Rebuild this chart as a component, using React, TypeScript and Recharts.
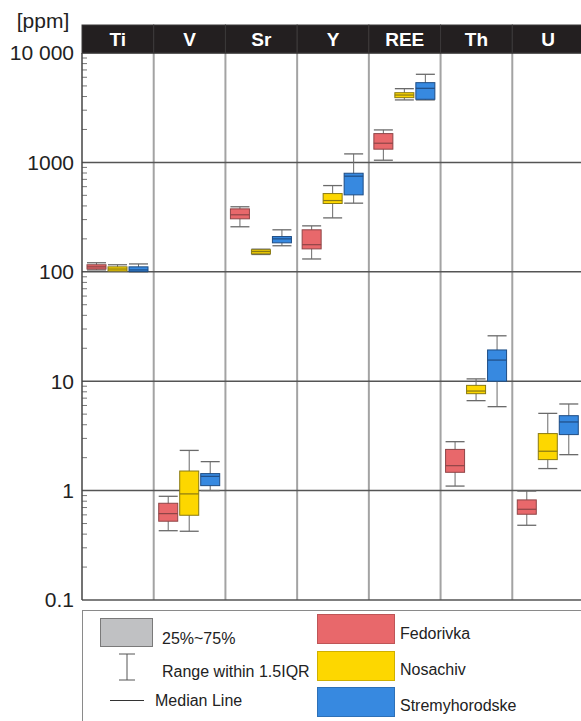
import { ComposedChart, Bar, XAxis, YAxis, CartesianGrid, Legend, Label, ReferenceLine } from 'recharts';

const FONT = '"Liberation Sans", Arial, Helvetica, sans-serif';

const CATEGORIES = ['Ti', 'V', 'Sr', 'Y', 'REE', 'Th', 'U'];

// per element: [whisker low, Q1, median, Q3, whisker high], ppm
const FEDORIVKA = [
  [104, 106, 111, 116, 121],
  [0.43, 0.525, 0.616, 0.766, 0.887],
  [258, 305, 332, 376, 393],
  [131, 162, 177, 242, 263],
  [1047, 1321, 1497, 1833, 1981],
  [1.1, 1.47, 1.69, 2.38, 2.8],
  [0.482, 0.608, 0.675, 0.822, 0.99],
];
const NOSACHIV = [
  [101, 101.6, 106, 111, 116],
  [0.425, 0.595, 0.933, 1.51, 2.33],
  [144, 146, 153, 159, 161],
  [311, 421, 448, 519, 614],
  [3725, 3907, 4128, 4337, 4720],
  [6.64, 7.69, 8.13, 9.16, 10.5],
  [1.59, 1.92, 2.29, 3.32, 5.08],
];
const STREMYHORODSKE = [
  [100, 100.5, 104, 111, 118],
  [1.0, 1.11, 1.35, 1.43, 1.84],
  [173, 184, 200, 210, 242],
  [424, 505, 748, 796, 1196],
  [3725, 3776, 4756, 5357, 6388],
  [5.85, 10.0, 15.6, 19.3, 26.0],
  [2.13, 3.25, 4.24, 4.84, 6.19],
];

const Y_TICKS = [0.1, 1, 10, 100, 1000, 10000];
const DECADES = [0.1, 1, 10, 100, 1000];
const MINOR_STEPS = [2, 3, 4, 5, 6, 7, 8, 9];
const MINOR_TICKS = DECADES.flatMap(d => MINOR_STEPS.map(m => +(d * m).toPrecision(3)));

const SERIES = [
  { key: 'fed', name: 'Fedorivka', fill: '#e8686b', edge: '#8e4547', stats: FEDORIVKA },
  { key: 'nos', name: 'Nosachiv', fill: '#fdd700', edge: '#8a7a12', stats: NOSACHIV },
  { key: 'str', name: 'Stremyhorodske', fill: '#3789e0', edge: '#1f4d84', stats: STREMYHORODSKE },
];

const data = CATEGORIES.map((cat, i) => {
  const row: any = { cat };
  SERIES.forEach(s => { row[s.key] = s.stats[i]; });
  return row;
});

const fmtY = (v: number) => (v === 10000 ? '10 000' : String(v));

function BoxShape(props: any) {
  const { x, y, width, height, stats, fill, edge } = props;
  if (!stats) return null;
  const [lo, q1, med, q3, hi] = stats;
  const top = Math.min(y, y + height);
  const h = Math.abs(height);
  const span = Math.log10(hi) - Math.log10(lo);
  // position inside the whisker range bar, in the same log scale
  const py = (v: number) => top + ((Math.log10(hi) - Math.log10(v)) / span) * h;
  const cx = x + width / 2;
  return (
    <g>
      <line x1={cx} x2={cx} y1={py(hi)} y2={py(lo)} stroke="#6a6a6a" strokeWidth={1} />
      <line x1={x} x2={x + width} y1={py(hi)} y2={py(hi)} stroke="#6a6a6a" strokeWidth={1.3} />
      <line x1={x} x2={x + width} y1={py(lo)} y2={py(lo)} stroke="#6a6a6a" strokeWidth={1.3} />
      <rect x={x} y={py(q3)} width={width} height={Math.max(py(q1) - py(q3), 1)} fill={fill} stroke={edge} strokeWidth={1} />
      <line x1={x} x2={x + width} y1={py(med)} y2={py(med)} stroke={edge} strokeWidth={1.2} />
    </g>
  );
}

// short inward tick on the left axis
const MinorTick = (p: any) =>
  p.x1 == null ? null : <line x1={p.x1} x2={p.x1 + 5} y1={p.y1} y2={p.y1} stroke="#777" strokeWidth={1} />;

function HeaderTick(props: any) {
  const { x, y, payload, width, visibleTicksCount } = props;
  const w = width && visibleTicksCount ? width / visibleTicksCount : 2 * (payload.offset || 36);
  return (
    <g>
      <rect x={x - w / 2} y={y - 28} width={w} height={28} fill="#231f20" stroke="#3b3839" strokeWidth={1} />
      <text x={x} y={y - 7} textAnchor="middle" fill="#fff" fontWeight="bold" fontSize={19} fontFamily={FONT}>
        {payload.value}
      </text>
    </g>
  );
}

function LegendBox(props: any) {
  const payload = props.payload || [];
  const txt = { position: 'absolute' as const, fontSize: 16, lineHeight: '16px', color: '#222', whiteSpace: 'nowrap' as const };
  return (
    <div style={{ position: 'relative', width: 520, height: 130, borderTop: '1.5px solid #8a8a8a', borderLeft: '1.5px solid #8a8a8a', fontFamily: FONT, boxSizing: 'border-box' }}>
      <div style={{ position: 'absolute', left: 17, top: 7, width: 53, height: 29, background: '#c0c1c3', border: '1px solid #7a7a7a', boxSizing: 'border-box' }} />
      <div style={{ ...txt, left: 79, top: 20 }}>25%~75%</div>
      <svg style={{ position: 'absolute', left: 35, top: 42 }} width={18} height={28}>
        <line x1={9} x2={9} y1={1} y2={27} stroke="#555" />
        <line x1={1} x2={17} y1={1} y2={1} stroke="#555" />
        <line x1={1} x2={17} y1={27} y2={27} stroke="#555" />
      </svg>
      <div style={{ ...txt, left: 79, top: 53 }}>Range within 1.5IQR</div>
      <div style={{ position: 'absolute', left: 27, top: 89, width: 34, height: 1, background: '#333' }} />
      <div style={{ ...txt, left: 72, top: 82 }}>Median Line</div>
      {payload.map((p: any, i: number) => (
        <div key={p.value}>
          <div style={{ position: 'absolute', left: 234, top: 3 + i * 36.5, width: 78, height: 30, background: p.color, border: '1px solid rgba(0,0,0,0.18)', boxSizing: 'border-box' }} />
          <div style={{ ...txt, left: 317, top: 15 + i * 36 }}>{p.value}</div>
        </div>
      ))}
    </div>
  );
}

export default function App() {
  return (
    <div style={{ position: 'absolute', left: 0, top: 0, width: 581, height: 721, overflow: 'hidden', background: '#fff', fontFamily: FONT }}>
      <ComposedChart
        width={600}
        height={721}
        data={data}
        margin={{ top: 25, right: 16, bottom: 121, left: 0 }}
        barCategoryGap={5}
        barGap={2}
      >
        <CartesianGrid
          horizontal={false}
          stroke="#a3a3a3"
          strokeWidth={2}
          verticalCoordinatesGenerator={({ offset }: any) =>
            CATEGORIES.map((_, i) => offset.left + ((i + 1) * offset.width) / CATEGORIES.length)
          }
        />
        <CartesianGrid vertical={false} stroke="#555" strokeWidth={1.5} />
        <XAxis
          dataKey="cat"
          orientation="top"
          height={28}
          axisLine={false}
          tickLine={false}
          tickSize={0}
          tickMargin={0}
          interval={0}
          tick={<HeaderTick />}
        />
        <YAxis
          scale="log"
          domain={[0.1, 10000]}
          allowDataOverflow
          ticks={Y_TICKS}
          tickFormatter={fmtY}
          width={82}
          tickSize={0}
          tickMargin={8}
          tickLine={false}
          axisLine={{ stroke: '#444', strokeWidth: 1.5 }}
          tick={{ fontSize: 21, fill: '#222' }}
          interval={0}
        >
          <Label value="[ppm]" position="top" offset={25} dx={2} fontSize={21} fill="#222" />
        </YAxis>
        {MINOR_TICKS.map(v => (
          <ReferenceLine key={v} y={v} shape={MinorTick} />
        ))}
        {SERIES.map(s => (
          <Bar
            key={s.key}
            name={s.name}
            dataKey={(row: any) => [row[s.key][0], row[s.key][4]]}
            fill={s.fill}
            isAnimationActive={false}
            shape={(p: any) => <BoxShape {...p} stats={p.payload[s.key]} fill={s.fill} edge={s.edge} />}
          />
        ))}
        <Legend
          layout="vertical"
          verticalAlign="middle"
          align="center"
          wrapperStyle={{ top: 610, left: 82, width: 520, height: 130 }}
          content={<LegendBox />}
        />
      </ComposedChart>
    </div>
  );
}
